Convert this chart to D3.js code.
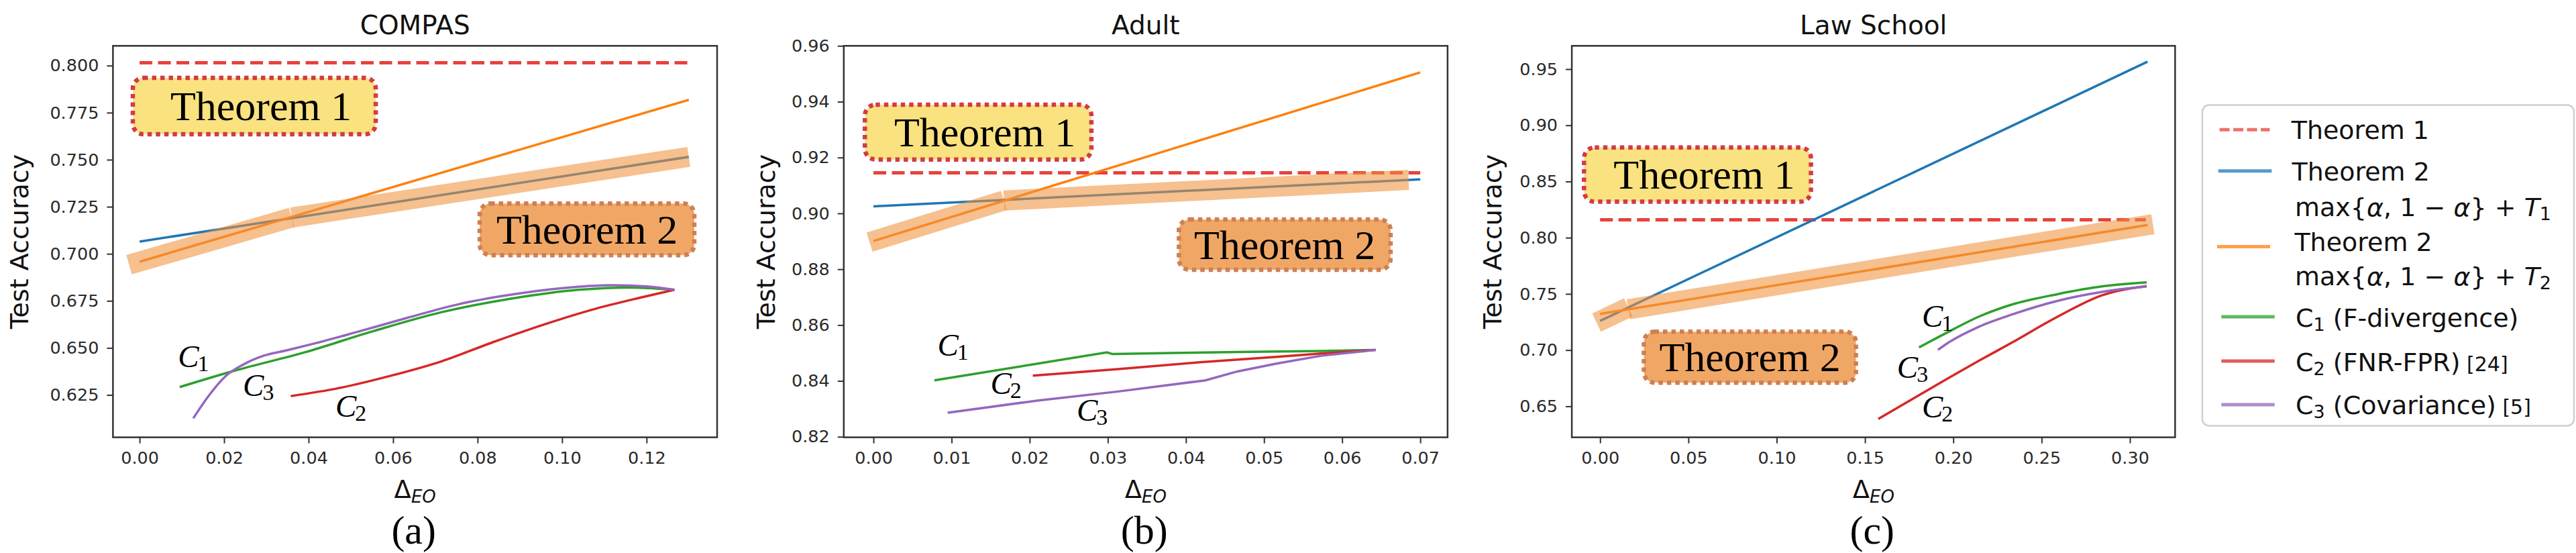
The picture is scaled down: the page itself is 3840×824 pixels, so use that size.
<!DOCTYPE html>
<html><head><meta charset="utf-8">
<script src="https://cdn.jsdelivr.net/npm/d3@7"></script>
<style>body{margin:0;background:#fff}svg{display:block}</style>
</head><body>
<svg id="chart" width="3840" height="824"></svg>
<script>
// ---------------- DATA ----------------
const titles = ["COMPAS", "Adult", "Law School"];
const subLabels = ["(a)", "(b)", "(c)"];

const xTicksA = [0, 0.02, 0.04, 0.06, 0.08, 0.10, 0.12];
const yTicksA = [0.625, 0.650, 0.675, 0.700, 0.725, 0.750, 0.775, 0.800];
const xTicksB = [0, 0.01, 0.02, 0.03, 0.04, 0.05, 0.06, 0.07];
const yTicksB = [0.82, 0.84, 0.86, 0.88, 0.90, 0.92, 0.94, 0.96];
const xTicksC = [0, 0.05, 0.10, 0.15, 0.20, 0.25, 0.30];
const yTicksC = [0.65, 0.70, 0.75, 0.80, 0.85, 0.90, 0.95];

// COMPAS
const thm1A = [[0, 0.8015], [0.13, 0.8015]];
const thm2T1A = [[0, 0.7065], [0.13, 0.7515]];
const thm2T2A = [[0, 0.6958], [0.13, 0.7818]];
const bandA = [[[-0.0025, 0.6942], [0.036, 0.7193]], [[0.036, 0.7193], [0.1300, 0.7515]]];
const c1A = [[0.0095, 0.6292], [0.0228, 0.6381], [0.0390, 0.6476], [0.0553, 0.6589], [0.0715, 0.6690], [0.0877, 0.6761], [0.1039, 0.6809], [0.1160, 0.6821], [0.1266, 0.6809]];
const c2A = [[0.0358, 0.6244], [0.0471, 0.6286], [0.0593, 0.6351], [0.0715, 0.6429], [0.0836, 0.6530], [0.0958, 0.6625], [0.1079, 0.6708], [0.1185, 0.6767], [0.1266, 0.6809]];
const c3A = [[0.0127, 0.6126], [0.0163, 0.6244], [0.0204, 0.6351], [0.0245, 0.6411], [0.0293, 0.6458], [0.0350, 0.6488], [0.0415, 0.6524], [0.0512, 0.6583], [0.0634, 0.6660], [0.0755, 0.6732], [0.0877, 0.6782], [0.0998, 0.6817], [0.1120, 0.6833], [0.1201, 0.6827], [0.1266, 0.6809]];

// Adult
const thm1B = [[0, 0.9145], [0.07, 0.9145]];
const thm2T1B = [[0, 0.9025], [0.07, 0.9122]];
const thm2T2B = [[0, 0.8901], [0.07, 0.9505]];
const bandB = [[[-0.0005, 0.8897], [0.0167, 0.9046]], [[0.0167, 0.9046], [0.0685, 0.9120]]];
const c1B = [[0.0078, 0.8402], [0.0299, 0.8502], [0.0306, 0.8496], [0.0381, 0.8500], [0.0482, 0.8504], [0.0573, 0.8507], [0.0643, 0.8511]];
const c2B = [[0.0204, 0.8419], [0.0313, 0.8442], [0.0415, 0.8466], [0.0516, 0.8486], [0.0573, 0.8498], [0.0643, 0.8511]];
const c3B = [[0.0095, 0.8286], [0.0211, 0.8330], [0.0313, 0.8362], [0.0425, 0.8402], [0.0466, 0.8434], [0.0516, 0.8462], [0.0573, 0.8490], [0.0643, 0.8511]];

// Law School
const thm1C = [[0, 0.816], [0.309, 0.816]];
const thm2T1C = [[0, 0.726], [0.310, 0.9566]];
const thm2T2C = [[0, 0.7322], [0.310, 0.8113]];
const bandC = [[[-0.002, 0.7245], [0.016, 0.7379]], [[0.016, 0.7363], [0.313, 0.8120]]];
const c1C = [[0.1806, 0.7024], [0.1955, 0.7148], [0.2145, 0.7298], [0.2335, 0.7407], [0.2588, 0.7497], [0.2841, 0.7566], [0.3095, 0.7602]];
const c2C = [[0.1575, 0.6387], [0.1955, 0.6735], [0.2145, 0.6905], [0.2335, 0.7069], [0.2588, 0.7295], [0.2841, 0.7487], [0.3095, 0.7570]];
const c3C = [[0.1913, 0.7002], [0.1955, 0.7049], [0.2145, 0.7208], [0.2335, 0.7318], [0.2588, 0.7437], [0.2841, 0.7517], [0.3095, 0.7566]];

const seriesNames = ["Theorem 1", "Theorem 2 T1", "Theorem 2 T2", "C1 (F-divergence)", "C2 (FNR-FPR) [24]", "C3 (Covariance) [5]"];

// ---------------- LAYOUT / STYLE ----------------
const plotTop = 68.3, plotBottom = 651.6;
const colors = {thm1: "#e8413c", t1: "#1f77b4", t2: "#ff7f0e", c1: "#2ca02c", c2: "#d62728", c3: "#9467bd", band: "#f0913a"};

const panels = [
  {title: titles[0], sub: subLabels[0], left: 168.4, right: 1069, xDomain: [-0.0063, 0.1367], yDomain: [0.6025, 0.8105],
   xTicks: xTicksA, yTicks: yTicksA, yFmt: ".3f", thm1: thm1A, t1: thm2T1A, t2: thm2T2A, band: bandA, c1: c1A, c2: c2A, c3: c3A,
   curve: d3.curveMonotoneX, yLabelGap: 126,
   box1: [-0.0016, 0.0559, 0.7935, 0.7635], box2: [0.0805, 0.1313, 0.7267, 0.6993],
   labels: [["1", 0.00906, 0.6399], ["3", 0.02445, 0.6244], ["2", 0.04634, 0.6133]]},
  {title: titles[1], sub: subLabels[1], left: 1257.8, right: 2157.9, xDomain: [-0.0038, 0.0735], yDomain: [0.8198, 0.96],
   xTicks: xTicksB, yTicks: yTicksB, yFmt: ".2f", thm1: thm1B, t1: thm2T1B, t2: thm2T2B, band: bandB, c1: c1B, c2: c2B, c3: c3B,
   curve: d3.curveLinear, yLabelGap: 103,
   box1: [-0.0011, 0.0279, 0.9389, 0.9193], box2: [0.0391, 0.0662, 0.8978, 0.8798],
   labels: [["1", 0.00819, 0.8490], ["2", 0.01498, 0.83535], ["3", 0.02601, 0.82574]]},
  {title: titles[2], sub: subLabels[2], left: 2343.1, right: 3242.4, xDomain: [-0.016, 0.3256], yDomain: [0.6224, 0.9707],
   xTicks: xTicksC, yTicks: yTicksC, yFmt: ".2f", thm1: thm1C, t1: thm2T1C, t2: thm2T2C, band: bandC, c1: c1C, c2: c2C, c3: c3C,
   curve: d3.curveMonotoneX, yLabelGap: 105.6,
   box1: [-0.0091, 0.1194, 0.8803, 0.8320], box2: [0.0248, 0.1449, 0.7164, 0.6710],
   labels: [["1", 0.18223, 0.7206], ["3", 0.16814, 0.6756], ["2", 0.18223, 0.6400]]}
];

const svg = d3.select("#chart");
const sans = "DejaVu Sans", serif = "Liberation Serif";

panels.forEach(p => {
  const x = d3.scaleLinear().domain(p.xDomain).range([p.left, p.right]);
  const y = d3.scaleLinear().domain(p.yDomain).range([plotBottom, plotTop]);
  const g = svg.append("g");
  const cx = (p.left + p.right) / 2;

  // axes
  const ax = g.append("g").attr("transform", `translate(0,${plotBottom})`)
    .call(d3.axisBottom(x).tickValues(p.xTicks).tickFormat(d3.format(".2f")).tickSize(9).tickPadding(12).tickSizeOuter(0));
  const ay = g.append("g").attr("transform", `translate(${p.left},0)`)
    .call(d3.axisLeft(y).tickValues(p.yTicks).tickFormat(d3.format(p.yFmt)).tickSize(9).tickPadding(12).tickSizeOuter(0));
  [ax, ay].forEach(a => {
    a.select(".domain").remove();
    a.selectAll("text").attr("font-family", sans).attr("font-size", 25.5).attr("fill", "#2a2a2a");
    a.selectAll("line").attr("stroke", "#333").attr("stroke-width", 2);
  });

  const line = d3.line().x(d => x(d[0])).y(d => y(d[1]));

  g.append("path").attr("d", line(p.thm1)).attr("fill", "none").attr("stroke", colors.thm1)
    .attr("stroke-width", 5).attr("stroke-dasharray", "19 8.5");
  g.append("path").attr("d", line(p.t1)).attr("fill", "none").attr("stroke", colors.t1).attr("stroke-width", 3.5);
  g.append("path").attr("d", line(p.t2)).attr("fill", "none").attr("stroke", colors.t2).attr("stroke-width", 3.5);
  const cl = d3.line().x(d => x(d[0])).y(d => y(d[1])).curve(p.curve);
  [["c1", p.c1], ["c2", p.c2], ["c3", p.c3]].forEach(([k, data]) => {
    g.append("path").attr("d", cl(data)).attr("fill", "none").attr("stroke", colors[k]).attr("stroke-width", 3.5);
  });
  // highlight band
  p.band.forEach(seg => {
    g.append("path").attr("d", line(seg)).attr("fill", "none").attr("stroke", colors.band)
      .attr("stroke-width", 30).attr("stroke-opacity", 0.57).attr("stroke-linecap", "butt");
  });

  // frame
  g.append("rect").attr("x", p.left).attr("y", plotTop).attr("width", p.right - p.left).attr("height", plotBottom - plotTop)
    .attr("fill", "none").attr("stroke", "#333").attr("stroke-width", 2.5);

  // Theorem boxes
  const boxes = [[p.box1, "#f9e27f", "#d23a4c", "Theorem 1", 10], [p.box2, "#f0a766", "#cd7f55", "Theorem 2", 0]];
  boxes.forEach(([b, fill, stroke, txt, off]) => {
    const bx0 = x(b[0]), bx1 = x(b[1]), by0 = y(b[2]), by1 = y(b[3]);
    g.append("rect").attr("x", bx0).attr("y", by0).attr("width", bx1 - bx0).attr("height", by1 - by0)
      .attr("rx", 16).attr("fill", fill).attr("stroke", stroke).attr("stroke-width", 6.5).attr("stroke-dasharray", "6.5 6");
    g.append("text").attr("x", (bx0 + bx1) / 2 + off).attr("y", (by0 + by1) / 2 + 21).attr("text-anchor", "middle")
      .attr("font-family", serif).attr("font-size", 62).attr("fill", "#000").text(txt);
  });

  // C labels
  p.labels.forEach(([n, lx, ly]) => {
    const t = g.append("text").attr("x", x(lx)).attr("y", y(ly)).attr("font-family", serif).attr("fill", "#000");
    t.append("tspan").attr("font-size", 47).attr("font-style", "italic").text("C");
    t.append("tspan").attr("font-size", 34).attr("dy", 6).attr("dx", -2).text(n);
  });

  // title
  g.append("text").attr("x", cx).attr("y", 51).attr("text-anchor", "middle").attr("font-family", sans)
    .attr("font-size", 39).attr("fill", "#111").text(p.title);
  // y label
  g.append("text").attr("transform", `translate(${p.left - p.yLabelGap},${(plotTop + plotBottom) / 2}) rotate(-90)`)
    .attr("text-anchor", "middle").attr("font-family", sans).attr("font-size", 38).attr("fill", "#111").text("Test Accuracy");
  // x label
  const xl = g.append("text").attr("x", cx).attr("y", 741.7).attr("text-anchor", "middle").attr("font-family", sans).attr("fill", "#111");
  xl.append("tspan").attr("font-size", 37).text("Δ");
  xl.append("tspan").attr("font-size", 26).attr("font-style", "italic").attr("dy", 7).text("EO");
  // sub label
  g.append("text").attr("x", cx - 2).attr("y", 810).attr("text-anchor", "middle").attr("font-family", serif)
    .attr("font-size", 60).attr("fill", "#000").text(p.sub);
});

// ---------------- LEGEND ----------------
const lg = svg.append("g");
lg.append("rect").attr("x", 3283).attr("y", 156.4).attr("width", 554).attr("height", 478).attr("rx", 10)
  .attr("fill", "#fff").attr("stroke", "#cfcfcf").attr("stroke-width", 2.5);
const legendItems = [
  {name: seriesNames[0], color: colors.thm1, dash: "15 5.5", ly: 193.2, x0: 3308.6, x1: 3383.6},
  {name: seriesNames[1], color: colors.t1, ly: 254.8, x0: 3306.8, x1: 3386.4},
  {name: seriesNames[2], color: colors.t2, ly: 367.6, x0: 3305, x1: 3384},
  {name: seriesNames[3], color: colors.c1, ly: 472, x0: 3311.4, x1: 3390.7},
  {name: seriesNames[4], color: colors.c2, ly: 538, x0: 3311.4, x1: 3390.7},
  {name: seriesNames[5], color: colors.c3, ly: 603, x0: 3311.4, x1: 3390.7}
];
legendItems.forEach(it => {
  lg.append("line").attr("x1", it.x0).attr("x2", it.x1).attr("y1", it.ly).attr("y2", it.ly)
    .attr("stroke", it.color).attr("stroke-width", 5).attr("stroke-opacity", 0.75)
    .attr("stroke-dasharray", it.dash || null);
});
function ltext(x, yb) {
  return lg.append("text").attr("x", x).attr("y", yb).attr("font-family", sans).attr("font-size", 38).attr("fill", "#111");
}
ltext(3415.7, 206.7).text("Theorem 1");
ltext(3416.5, 269.1).text("Theorem 2");
function maxLine(xp, yb, sub) {
  const t = ltext(xp, yb);
  t.append("tspan").text("max{");
  t.append("tspan").attr("font-style", "italic").text("α");
  t.append("tspan").text(", 1 − ");
  t.append("tspan").attr("font-style", "italic").text("α");
  t.append("tspan").text("} + ");
  t.append("tspan").attr("font-style", "italic").text("T");
  t.append("tspan").attr("font-size", 27).attr("dy", 6).text(sub);
}
maxLine(3421, 322, "1");
ltext(3420.4, 374).text("Theorem 2");
maxLine(3421, 425.2, "2");
function cEntry(yb, n, rest, ref) {
  const t = ltext(3422, yb);
  t.append("tspan").text("C");
  t.append("tspan").attr("font-size", 27).attr("dy", 6).text(n);
  t.append("tspan").attr("dy", -6).text(" " + rest);
  if (ref) t.append("tspan").attr("font-size", 30).text(" " + ref);
}
cEntry(487.2, "1", "(F-divergence)", null);
cEntry(553, "2", "(FNR-FPR)", "[24]");
cEntry(617.4, "3", "(Covariance)", "[5]");
</script>
</body></html>
